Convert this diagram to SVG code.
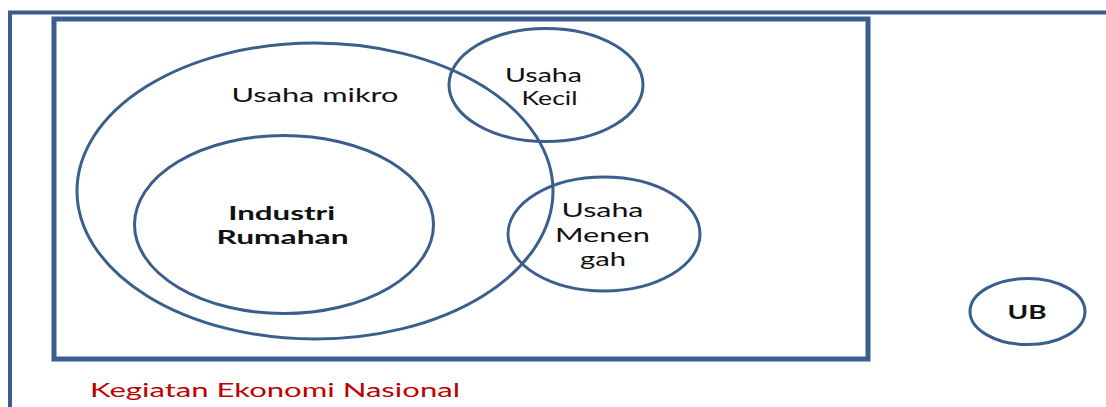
<svg xmlns="http://www.w3.org/2000/svg" width="1106" height="407" viewBox="0 0 1106 407">
<style>
.frame{fill:none;stroke:#3b5e8c}
.node{fill:none;stroke:#3b5e8c;stroke-width:3}
.t{font-family:Lato,"Open Sans","Liberation Sans",sans-serif;font-size:19.5px;fill:#111;text-anchor:middle}
.b{font-weight:bold}
.red{fill:#c00000;text-anchor:start}
</style>
<rect width="1106" height="407" fill="#fff"/>
<g id="outer-frame">
<path class="frame" d="M10,407 V12.5 H1106" stroke-width="4"/>
</g>
<g id="kegiatan-ekonomi-nasional">
<rect class="frame" x="54" y="19" width="814" height="340" stroke-width="5"/>
<text class="t red" x="90" y="397" textLength="370" lengthAdjust="spacingAndGlyphs">Kegiatan Ekonomi Nasional</text>
</g>
<g id="usaha-mikro">
<ellipse class="node" cx="315" cy="191" rx="238" ry="148"/>
<text class="t" x="315" y="101.7" textLength="167" lengthAdjust="spacingAndGlyphs">Usaha mikro</text>
</g>
<g id="industri-rumahan">
<ellipse class="node" cx="284" cy="224.5" rx="149.5" ry="89"/>
<text class="t b" x="281.7" y="219.5" textLength="107" lengthAdjust="spacingAndGlyphs">Industri</text>
<text class="t b" x="282.5" y="243.5" textLength="132" lengthAdjust="spacingAndGlyphs">Rumahan</text>
</g>
<g id="usaha-kecil">
<ellipse class="node" cx="546" cy="85" rx="97" ry="56.5"/>
<text class="t" x="543.5" y="81.5" textLength="77" lengthAdjust="spacingAndGlyphs">Usaha</text>
<text class="t" x="549.5" y="105" textLength="56" lengthAdjust="spacingAndGlyphs">Kecil</text>
</g>
<g id="usaha-menengah">
<ellipse class="node" cx="604" cy="234" rx="96" ry="57"/>
<text class="t" x="602.5" y="217" textLength="82" lengthAdjust="spacingAndGlyphs">Usaha</text>
<text class="t" x="602.5" y="242" textLength="95" lengthAdjust="spacingAndGlyphs">Menen</text>
<text class="t" x="603" y="266" textLength="46" lengthAdjust="spacingAndGlyphs">gah</text>
</g>
<g id="ub">
<ellipse class="node" cx="1027.5" cy="311.5" rx="57.5" ry="33"/>
<text class="t b" x="1027" y="319" font-size="18" textLength="39" lengthAdjust="spacingAndGlyphs">UB</text>
</g>
<g id="connectors"></g>
</svg>
